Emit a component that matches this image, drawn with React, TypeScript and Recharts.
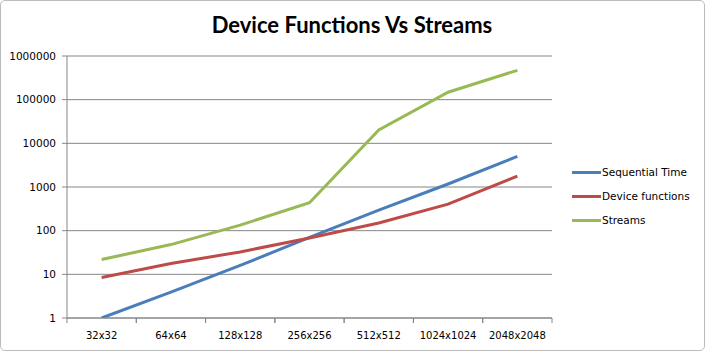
import React from 'react';
import { LineChart, Line, XAxis, YAxis, CartesianGrid } from 'recharts';

const sizes = ['32x32', '64x64', '128x128', '256x256', '512x512', '1024x1024', '2048x2048'];
const sequentialTime = [1, 3.9, 16, 70, 295, 1170, 5000];
const deviceFunctions = [8.5, 17.7, 32.6, 68, 150, 405, 1780];
const streams = [21.9, 48, 134, 435, 20300, 148000, 470000];
const yTicks = [1, 10, 100, 1000, 10000, 100000, 1000000];

const series = [
  { key: 'seq', name: 'Sequential Time', color: '#4A7EBB' },
  { key: 'dev', name: 'Device functions', color: '#BE4B48' },
  { key: 'str', name: 'Streams', color: '#98B954' }
];

const data = sizes.map((s, i) => ({
  idx: i,
  size: s,
  seq: sequentialTime[i],
  dev: deviceFunctions[i],
  str: streams[i]
}));

const AXIS = '#868686';
const HALF_BAND = 34.65;

// category label plus excel-style tick marks on the band edges
const XTick = ({ x, y, payload }: any) => (
  <g>
    <line x1={x - HALF_BAND} y1={y} x2={x - HALF_BAND} y2={y + 5} stroke={AXIS} />
    <line x1={x + HALF_BAND} y1={y} x2={x + HALF_BAND} y2={y + 5} stroke={AXIS} />
    <text x={x} y={y + 21} textAnchor="middle" fontSize={10} fontFamily="DejaVu Sans" fill="#000">
      {sizes[payload.value]}
    </text>
  </g>
);

const App: React.FC = () => {
  return (
    <div style={{ position: 'absolute', left: 0, top: 0, width: 706, height: 354, background: '#fff' }}>
      <div
        style={{
          position: 'absolute', left: 0, top: 0, width: 703, height: 349,
          border: '1px solid #bcbcbc', borderRadius: 5, boxSizing: 'content-box'
        }}
      />
      <div
        style={{
          position: 'absolute', left: 0, top: 12, width: 704, textAlign: 'center',
          fontFamily: 'Lato', fontWeight: 'bold', fontSize: 22, color: '#000', lineHeight: '26px'
        }}
      >
        Device Functions Vs Streams
      </div>
      <div style={{ position: 'absolute', left: 0, top: 0 }}>
        <LineChart width={706} height={354} data={data} margin={{ top: 56, right: 154, bottom: 0, left: 0 }}>
          <CartesianGrid horizontal vertical={false} stroke={AXIS} />
          <XAxis
            dataKey="idx"
            type="number"
            domain={[-0.5, 6.5]}
            ticks={[0, 1, 2, 3, 4, 5, 6]}
            tick={<XTick />}
            tickLine={false}
            tickSize={0}
            tickMargin={0}
            stroke={AXIS}
            interval={0}
            height={36}
          />
          <YAxis
            scale="log"
            domain={[1, 1000000]}
            ticks={yTicks}
            allowDataOverflow
            width={67}
            stroke={AXIS}
            tickSize={5}
            tickMargin={6}
            interval={0}
            tick={{ fontSize: 10.5, fontFamily: 'DejaVu Sans', fill: '#000' }}
          />
          {series.map(s => (
            <Line
              key={s.key}
              dataKey={s.key}
              name={s.name}
              stroke={s.color}
              strokeWidth={3}
              dot={false}
              type="linear"
              isAnimationActive={false}
            />
          ))}
        </LineChart>
      </div>
      {series.map((s, i) => (
        <div
          key={s.key}
          style={{ position: 'absolute', left: 572, top: 165 + i * 24, height: 14, display: 'flex', alignItems: 'center' }}
        >
          <div style={{ width: 29, height: 3, background: s.color }} />
          <span style={{ fontFamily: 'DejaVu Sans', fontSize: 10.5, color: '#000', marginLeft: 1 }}>{s.name}</span>
        </div>
      ))}
    </div>
  );
};

export default App;
